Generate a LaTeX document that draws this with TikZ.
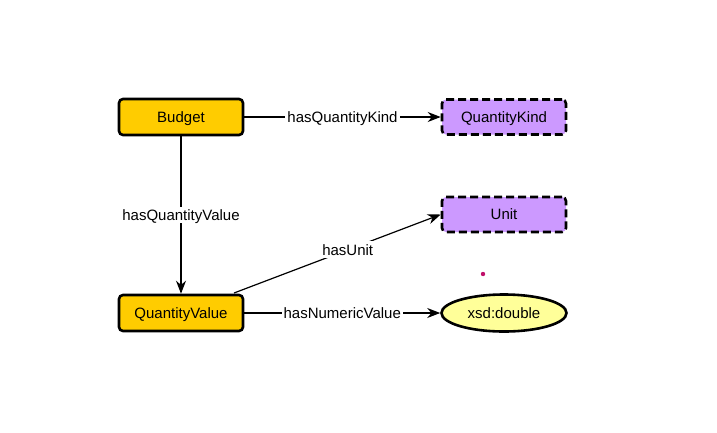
\documentclass[tikz,border=0pt]{standalone}
\usepackage{fontspec}
\setmainfont{Liberation Sans}
\usetikzlibrary{arrows.meta,shapes.geometric}
\definecolor{classyellow}{HTML}{FFCC00}
\definecolor{extpurple}{HTML}{CC99FF}
\definecolor{lityellow}{HTML}{FFFF99}
\definecolor{dotmag}{HTML}{C0106A}
\tikzset{
  every node/.style={font=\fontsize{15}{17}\selectfont, text height=10.8pt, text depth=0pt},
  classbox/.style={draw=black, line width=2.6pt, rounded corners=4pt, fill=classyellow, minimum width=124pt, minimum height=36pt, inner sep=0pt},
  extbox/.style={draw=black, line width=2.6pt, rounded corners=4pt, fill=extpurple, dash pattern=on 8pt off 4pt, minimum width=124pt, minimum height=35pt, inner sep=0pt},
  litnode/.style={draw=black, line width=2.6pt, ellipse, fill=lityellow, minimum width=125pt, minimum height=37pt, inner sep=0pt},
  rel/.style={draw=black, line width=1.2pt, -{Stealth[length=13pt,width=10pt]}},
  rellabel/.style={fill=white, inner xsep=2pt, inner ysep=3pt},
}
\begin{document}
\begin{tikzpicture}[x=1pt,y=-1pt]
\useasboundingbox (0,0) rectangle (717,432);
\node[classbox] (budget) at (181,117) {Budget};
\node[extbox] (qkind) at (504,117) {QuantityKind};
\node[extbox] (unit) at (504,214.5) {Unit};
\node[classbox] (qvalue) at (181,313) {QuantityValue};
\node[litnode] (double) at (504,313) {xsd:double};
\coordinate (qvstart) at (234,293);
\draw[rel] (budget) -- node[rellabel] {hasQuantityKind} (qkind);
\draw[rel] (budget) -- node[rellabel] {hasQuantityValue} (qvalue);
\draw[rel] (qvstart) -- node[rellabel, pos=0.55] {hasUnit} (unit.west);
\draw[rel] (qvalue) -- node[rellabel] {hasNumericValue} (double);
\fill[dotmag] (483,274) circle (2.2pt);
\end{tikzpicture}
\end{document}
